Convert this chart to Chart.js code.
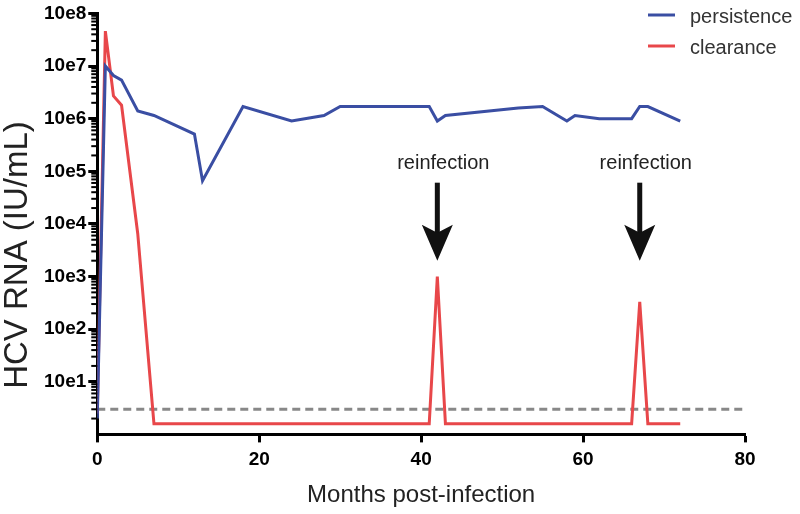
<!DOCTYPE html>
<html>
<head>
<meta charset="utf-8">
<script src="https://cdn.jsdelivr.net/npm/chart.js@4.4.1/dist/chart.umd.min.js"></script>
<style>
  html, body { margin: 0; padding: 0; background: #fff; }
  #wrap { width: 800px; height: 514px; }
</style>
</head>
<body>
<div id="wrap"><canvas id="hcvChart" width="800" height="514"></canvas></div>
<script>
// months post-infection and viral load (IU/mL)
const persistMonths = [0, 1, 2, 3, 5, 7, 12, 13, 18, 24, 28, 30, 41, 42, 43, 52, 55, 58, 59, 62, 66, 67, 68, 72];
const persistLoad = [2, 1e7, 6.6e6, 5.4e6, 1.4e6, 1.15e6, 5.1e5, 6.6e4, 1.7e6, 9e5, 1.15e6, 1.7e6, 1.7e6, 9e5, 1.15e6, 1.6e6, 1.7e6, 9e5, 1.15e6, 1e6, 1e6, 1.7e6, 1.7e6, 9e5];

const clearMonths = [0, 1, 2, 3, 5, 7, 41, 42, 43, 66, 67, 68, 72];
const clearLoad = [2.5, 4.6e7, 2.7e6, 1.8e6, 6.5e3, 1.6, 1.6, 1000, 1.6, 1.6, 330, 1.6, 1.6];

// detection limit (dashed)
const limitMonths = [0, 80];
const limitLoad = [3, 3];

const seriesNames = ['persistence', 'clearance'];
const seriesColors = ['#3a4ea3', '#e8474a'];

const xTicks = [0, 20, 40, 60, 80];
const yTickValues = [10, 100, 1e3, 1e4, 1e5, 1e6, 1e7, 1e8];
const yTickLabels = ['10e1', '10e2', '10e3', '10e4', '10e5', '10e6', '10e7', '10e8'];

const reinfectionMonths = [42, 67];
const reinfectionTip = 2000; // where the arrow points
const reinfectionText = 'reinfection';

const xTitle = 'Months post-infection';
const yTitle = 'HCV RNA (IU/mL)';

const toPoints = (xs, ys) => xs.map((x, i) => ({ x: x, y: ys[i] }));

// short minor ticks on the log axis
const minorTicks = {
  id: 'minorTicks',
  afterDraw(chart) {
    const ctx = chart.ctx;
    const y = chart.scales.y;
    const left = chart.chartArea.left;
    ctx.save();
    ctx.strokeStyle = '#000';
    ctx.lineWidth = 2;
    for (let n = 0; n < 8; n++) {
      for (let k = 2; k <= 9; k++) {
        const py = y.getPixelForValue(k * Math.pow(10, n));
        ctx.beginPath();
        ctx.moveTo(left - 6, py);
        ctx.lineTo(left, py);
        ctx.stroke();
      }
    }
    ctx.restore();
  }
};

// y title, legend and reinfection arrows
const extras = {
  id: 'extras',
  afterDraw(chart) {
    const ctx = chart.ctx;
    const xs = chart.scales.x;
    const ys = chart.scales.y;
    ctx.save();

    ctx.translate(18, 255);
    ctx.rotate(-Math.PI / 2);
    ctx.font = '33px "Liberation Sans", Arial, sans-serif';
    ctx.fillStyle = '#222';
    ctx.textAlign = 'center';
    ctx.textBaseline = 'middle';
    ctx.fillText(yTitle, 0, 0);
    ctx.setTransform(1, 0, 0, 1, 0, 0);

    // legend
    ctx.font = '20px "Liberation Sans", Arial, sans-serif';
    ctx.textAlign = 'left';
    seriesNames.forEach((name, i) => {
      const ly = 15 + i * 31;
      ctx.strokeStyle = seriesColors[i];
      ctx.lineWidth = 3;
      ctx.beginPath();
      ctx.moveTo(648, ly);
      ctx.lineTo(675, ly);
      ctx.stroke();
      ctx.fillStyle = '#333';
      ctx.fillText(name, 690, ly + 2);
    });

    // arrows
    reinfectionMonths.forEach((m) => {
      const px = xs.getPixelForValue(m);
      const tip = ys.getPixelForValue(reinfectionTip);
      ctx.fillStyle = '#111';
      ctx.fillRect(px - 2.5, tip - 78, 5, 52);
      ctx.beginPath();
      ctx.moveTo(px, tip);
      ctx.lineTo(px - 15.5, tip - 36);
      ctx.lineTo(px, tip - 28);
      ctx.lineTo(px + 15.5, tip - 36);
      ctx.closePath();
      ctx.fill();
      ctx.font = '20px "Liberation Sans", Arial, sans-serif';
      ctx.fillStyle = '#222';
      ctx.textAlign = 'center';
      ctx.textBaseline = 'middle';
      ctx.fillText(reinfectionText, px + 6, tip - 97);
    });
    ctx.restore();
  }
};

new Chart(document.getElementById('hcvChart'), {
  type: 'line',
  data: {
    datasets: [
      {
        label: seriesNames[0],
        data: toPoints(persistMonths, persistLoad),
        borderColor: seriesColors[0],
        borderWidth: 3,
        pointRadius: 0,
        tension: 0,
        fill: false
      },
      {
        label: seriesNames[1],
        data: toPoints(clearMonths, clearLoad),
        borderColor: seriesColors[1],
        borderWidth: 3,
        pointRadius: 0,
        tension: 0,
        fill: false
      },
      {
        label: 'limit',
        data: toPoints(limitMonths, limitLoad),
        borderColor: '#888',
        borderWidth: 3,
        borderDash: [8, 5],
        pointRadius: 0,
        fill: false
      }
    ]
  },
  options: {
    responsive: false,
    animation: false,
    layout: { padding: { left: 42, right: 55, top: 12, bottom: 4 } },
    plugins: {
      legend: { display: false },
      tooltip: { enabled: false }
    },
    scales: {
      x: {
        type: 'linear',
        min: 0,
        max: 80,
        afterBuildTicks: (scale) => { scale.ticks = xTicks.map(v => ({ value: v })); },
        border: { color: '#000', width: 3 },
        grid: { drawOnChartArea: false, drawTicks: true, tickLength: 8, tickColor: '#000', tickWidth: 3 },
        ticks: {
          color: '#000',
          padding: 6,
          font: { family: '"Liberation Sans", Arial, sans-serif', size: 19, weight: 'bold' }
        },
        title: {
          display: true,
          text: xTitle,
          color: '#222',
          font: { family: '"Liberation Sans", Arial, sans-serif', size: 24 },
          padding: { top: 4, bottom: 0 }
        }
      },
      y: {
        type: 'logarithmic',
        min: 1,
        max: 1e8,
        afterBuildTicks: (scale) => { scale.ticks = yTickValues.map(v => ({ value: v })); },
        border: { color: '#000', width: 3 },
        grid: { drawOnChartArea: false, drawTicks: true, tickLength: 9, tickColor: '#000', tickWidth: 3 },
        ticks: {
          color: '#000',
          padding: 2,
          autoSkip: false,
          font: { family: '"Liberation Sans", Arial, sans-serif', size: 19, weight: 'bold' },
          callback: (value) => {
            const i = yTickValues.indexOf(value);
            return i >= 0 ? yTickLabels[i] : '';
          }
        }
      }
    }
  },
  plugins: [minorTicks, extras]
});
</script>
</body>
</html>
